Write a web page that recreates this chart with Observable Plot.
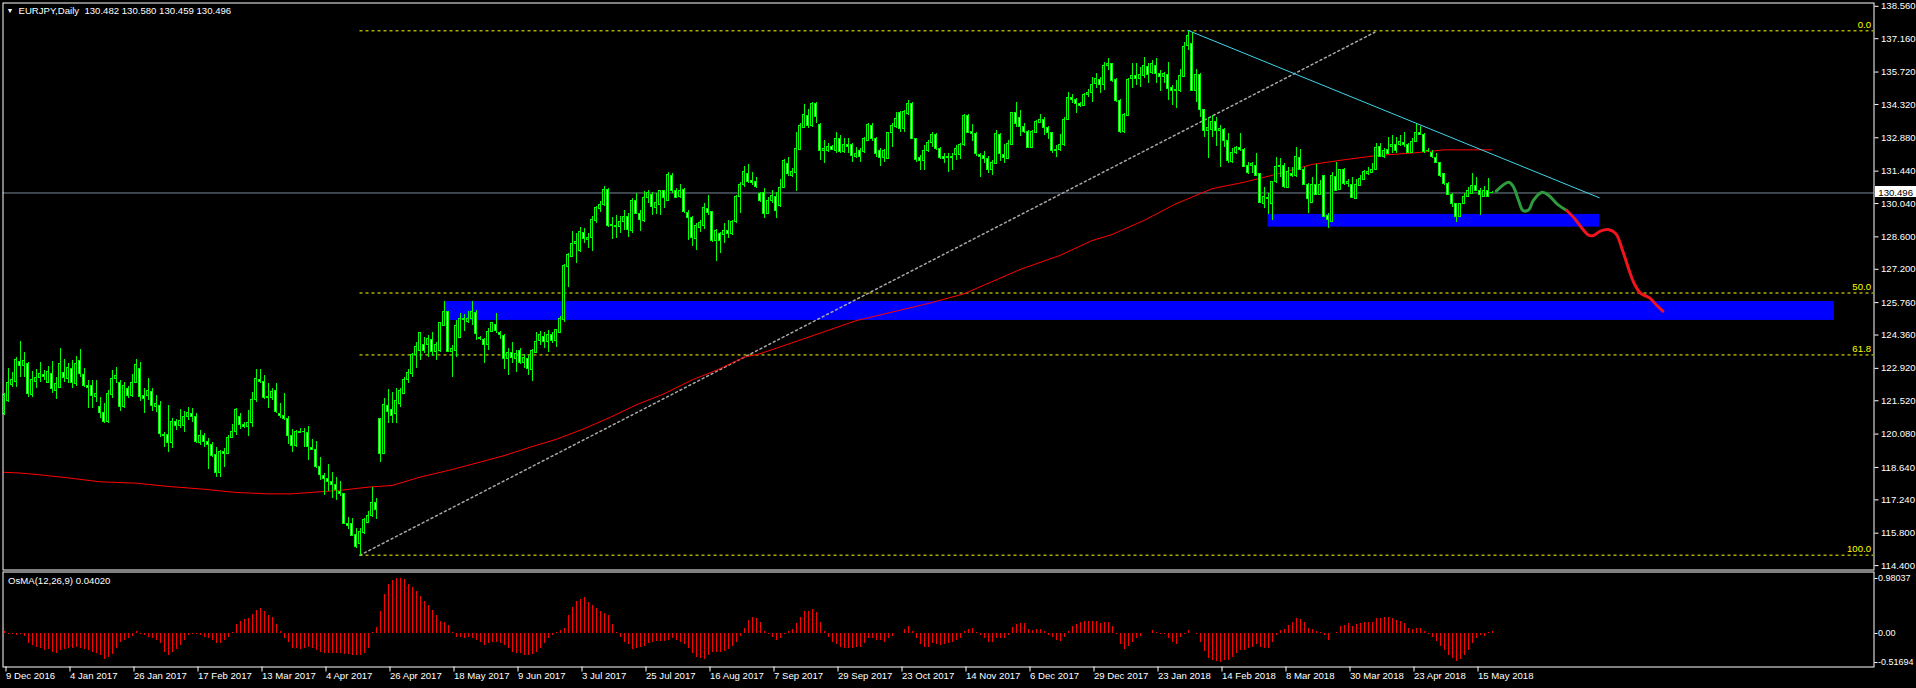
<!DOCTYPE html>
<html><head><meta charset="utf-8">
<script src="https://cdn.jsdelivr.net/npm/d3@7"></script>
<script src="https://cdn.jsdelivr.net/npm/@observablehq/plot@0.6"></script>
<style>
html,body{margin:0;padding:0;background:#000;overflow:hidden;}
#wrap{position:relative;width:1916px;height:688px;background:#000;}
#wrap svg{position:absolute;left:0;}
</style></head><body><div id="wrap"></div>
<script>
// ---------- DATA ----------
const symbol = "EURJPY,Daily";
const lastQuote = [130.482, 130.580, 130.459, 130.496];
const osmaTitle = "OsMA(12,26,9) 0.04020";

const open = [
120.96,121.50,122.22,122.32,123.20,123.01,123.12,121.75,122.32,122.50,
122.64,122.29,122.68,121.96,122.08,122.73,122.44,122.90,122.25,123.22,
122.64,122.17,122.14,121.68,121.23,121.00,120.60,121.75,122.45,122.29,
121.24,122.04,121.72,122.28,122.90,121.73,121.72,121.91,121.27,121.30,
120.06,120.02,119.69,120.61,120.44,120.45,120.81,120.96,120.84,119.69,
119.98,119.76,119.59,119.16,118.39,119.30,119.23,119.92,120.16,120.84,
120.49,120.38,120.55,121.56,122.42,122.35,121.65,121.65,121.96,120.96,
120.88,120.75,119.98,119.56,120.19,120.16,120.13,119.49,119.40,118.68,
118.29,118.15,118.02,117.89,117.56,117.50,116.20,116.20,115.73,115.34,
115.81,116.25,116.53,117.11,120.74,119.23,121.31,121.10,120.96,121.39,
121.82,122.40,122.68,123.48,123.66,123.95,123.91,124.15,123.62,123.66,
124.77,125.35,123.62,123.69,124.22,125.06,124.91,125.06,125.32,124.24,
124.15,123.94,124.48,124.81,124.44,124.30,123.33,123.58,123.33,123.65,
123.14,123.33,122.86,123.58,124.12,124.27,124.05,124.38,124.09,124.44,
124.99,127.29,127.72,128.30,127.98,128.76,128.47,128.54,129.28,129.81,
129.98,130.63,129.09,129.09,129.02,129.24,129.48,128.87,130.17,129.59,
129.28,130.29,130.43,129.84,129.96,130.56,130.17,131.25,130.57,130.31,
130.63,129.64,129.42,128.49,128.99,129.06,129.81,129.67,128.41,128.73,
128.70,128.87,128.73,129.24,130.31,130.86,131.32,131.00,130.96,130.46,
130.49,129.59,130.14,130.34,129.95,130.72,131.76,131.25,131.35,132.37,
133.31,133.84,133.38,134.32,133.45,132.33,132.33,132.50,132.33,132.84,
132.26,132.59,132.59,132.07,132.33,132.26,132.76,133.41,132.81,132.33,
132.01,131.97,133.08,133.34,133.96,133.27,133.92,134.35,132.81,132.00,
131.86,132.33,132.65,133.01,132.40,132.07,132.01,132.07,132.12,132.12,
132.55,133.84,133.12,133.05,132.12,132.09,131.97,131.47,131.76,132.98,
132.14,131.97,132.59,133.96,133.74,133.34,133.15,132.43,133.09,133.51,
133.63,133.31,133.09,132.30,132.37,132.55,133.66,134.61,134.52,134.35,
134.25,134.71,134.81,135.21,135.38,135.14,135.96,136.07,135.36,134.49,
133.12,133.84,135.40,135.57,135.40,135.57,135.93,135.67,136.00,135.64,
135.50,135.60,135.04,134.89,134.89,135.50,136.84,136.94,134.89,135.61,
134.06,133.17,133.20,133.58,133.17,133.20,132.72,131.83,132.23,132.43,
132.36,131.64,131.68,131.68,131.30,130.03,130.29,130.00,130.96,131.61,
131.64,130.72,131.32,131.25,132.02,131.50,130.86,130.06,130.86,130.42,
131.21,129.52,129.24,131.18,130.63,131.47,130.89,130.82,130.24,130.79,
131.06,131.32,131.35,131.50,132.47,132.04,132.36,132.50,132.58,132.55,
132.65,132.55,132.22,132.69,133.09,133.02,132.30,132.22,132.02,131.78,
131.30,130.89,130.42,130.03,129.45,130.03,130.34,130.46,130.78,130.60,
130.34,130.60,130.482];

const high = [
121.82,122.90,122.75,123.37,124.08,123.59,123.19,122.80,122.86,123.16,
122.83,123.00,123.22,122.54,123.78,123.29,123.12,123.26,123.43,123.73,
122.90,122.40,122.40,122.40,121.65,121.39,121.96,122.83,122.94,122.40,
122.32,122.14,122.64,123.30,123.19,122.04,122.47,122.04,121.75,121.50,
120.16,121.32,120.74,120.70,121.13,121.07,121.24,121.17,120.96,120.24,
120.09,119.88,119.73,119.52,119.37,119.44,120.02,120.49,121.20,120.98,
120.60,121.10,121.89,122.86,122.86,122.61,122.25,122.06,122.25,121.42,
121.82,120.84,120.28,120.24,120.31,120.34,120.41,119.83,119.77,119.05,
118.39,118.77,118.44,118.22,118.05,117.52,116.49,116.42,115.99,115.99,
116.42,116.75,117.79,117.28,120.77,121.60,122.01,121.89,122.04,122.04,
122.51,122.86,123.58,124.05,124.48,124.27,124.34,124.48,124.05,124.91,
125.81,125.38,123.91,124.99,125.30,125.25,125.39,125.81,125.42,124.30,
124.20,124.63,124.91,125.27,124.53,124.38,123.76,124.04,123.69,123.76,
123.52,123.48,123.72,124.48,124.53,124.48,124.56,124.48,124.58,125.16,
127.41,127.87,128.85,128.76,128.99,128.95,128.76,129.48,129.93,130.13,
130.78,130.68,129.42,129.52,129.48,129.74,129.59,130.24,130.49,129.74,
130.57,130.60,130.53,130.46,130.60,130.60,131.40,131.32,130.68,130.86,
130.68,129.74,129.48,129.19,129.31,130.03,130.39,129.71,128.90,128.80,
129.19,129.31,129.31,130.39,130.96,131.64,131.73,131.40,131.15,130.53,
130.67,130.31,130.60,130.53,131.06,131.93,132.01,131.54,133.12,133.51,
134.30,134.09,134.39,134.39,133.48,132.76,132.62,132.55,133.12,132.98,
132.84,132.84,132.65,132.48,132.40,132.91,133.51,133.51,132.91,132.40,
132.36,133.12,133.51,133.99,134.02,134.06,134.49,134.42,132.84,132.12,
132.55,132.76,133.12,133.05,132.48,132.19,132.19,132.19,132.55,132.65,
133.87,133.87,133.45,133.12,132.19,132.29,132.07,131.90,133.19,133.05,
132.59,132.76,133.99,134.42,134.06,133.48,133.19,133.19,133.63,133.87,
133.77,133.37,133.12,132.55,133.02,133.77,134.85,134.75,134.56,134.42,
134.78,134.95,135.50,135.64,135.50,136.12,136.30,136.10,135.43,134.52,
133.92,135.43,136.10,136.10,135.93,136.36,136.10,136.22,136.29,135.79,
135.71,136.15,135.14,135.36,135.82,137.01,137.52,137.44,135.82,135.64,
134.09,133.77,133.84,133.77,133.41,133.27,133.05,132.40,132.50,133.05,
132.40,131.83,131.83,132.19,131.32,130.75,130.49,130.99,132.04,131.97,
131.76,131.61,131.61,132.47,132.36,131.61,130.89,131.18,131.73,131.04,
131.25,129.60,131.40,131.83,131.50,131.54,131.06,131.18,131.06,131.25,
131.47,131.61,131.76,132.62,132.62,132.40,132.91,132.98,132.91,132.98,
133.12,132.62,132.84,133.51,133.37,133.05,132.40,132.33,132.19,131.83,
131.35,130.96,130.46,130.06,130.06,130.46,130.75,131.35,131.18,130.68,
130.78,131.11,130.580];

const low = [
120.88,121.45,122.11,122.11,122.54,122.54,121.65,121.65,122.04,122.29,
122.40,122.25,121.82,121.56,122.05,122.32,122.25,122.04,122.14,122.54,
122.11,121.20,121.17,121.46,120.74,120.52,120.52,121.60,122.25,121.06,
121.17,121.60,121.68,122.25,121.50,120.98,121.53,121.07,121.03,119.95,
119.52,119.30,119.44,120.24,120.31,120.16,120.67,120.60,119.66,119.59,
119.52,118.55,119.08,118.19,118.22,118.65,119.20,119.88,120.02,120.28,
120.31,119.99,120.38,121.46,122.25,121.57,121.17,121.53,120.98,120.74,
120.67,119.63,119.27,119.52,120.14,119.52,118.94,119.37,118.58,118.08,
117.43,117.61,117.28,117.21,117.38,116.17,115.98,115.66,115.15,114.85,
115.74,116.20,116.46,116.39,118.87,119.20,120.55,120.55,120.52,121.24,
121.79,122.28,122.51,122.90,123.26,123.55,123.40,123.43,123.26,123.62,
124.74,123.60,122.54,123.37,124.20,124.53,124.87,124.77,124.12,124.12,
123.12,123.69,124.45,124.44,124.15,122.86,122.61,123.12,122.76,123.09,
122.90,122.61,122.37,123.55,123.91,123.76,123.62,123.98,123.84,124.41,
124.91,126.43,127.69,127.43,127.94,128.30,128.08,127.98,129.16,129.67,
129.93,129.02,128.47,128.54,128.73,128.87,128.56,128.76,129.57,128.85,
129.24,130.03,129.52,129.57,129.52,129.81,130.14,130.46,130.24,130.24,
129.62,128.44,128.18,128.01,128.80,128.90,129.52,128.37,127.55,127.87,
128.30,128.51,128.66,129.19,129.62,130.72,130.89,130.82,130.67,130.10,
129.38,129.55,130.03,129.38,129.88,130.68,131.21,131.15,130.57,132.33,
133.27,133.27,133.34,133.48,131.90,131.76,132.26,132.33,132.22,132.22,
132.19,132.19,131.83,131.97,131.83,132.19,132.73,132.73,132.04,131.64,
131.83,131.95,132.45,133.27,133.12,133.12,133.84,132.81,131.83,131.47,
131.47,132.26,132.45,132.33,131.93,131.78,131.40,131.47,131.90,131.93,
132.50,133.05,132.73,132.07,131.15,131.76,131.32,131.25,131.71,131.87,
131.76,131.93,132.55,133.34,132.94,133.05,132.40,132.40,133.08,133.48,
132.98,132.79,132.19,132.04,132.30,132.52,133.63,134.35,133.92,134.20,
134.23,134.64,134.42,135.00,134.81,134.92,135.80,135.28,134.42,133.05,
133.05,133.80,134.99,135.14,135.07,135.43,135.21,135.61,135.21,134.89,
135.21,134.49,134.28,134.13,134.85,135.47,136.65,134.89,134.42,133.77,
132.91,131.97,132.88,132.50,131.61,132.47,131.78,131.78,132.16,132.30,
131.58,131.30,131.32,131.21,130.03,129.81,129.57,129.31,130.89,131.18,
130.68,130.68,131.18,131.18,131.47,130.82,129.60,130.03,130.39,130.39,
129.42,128.95,129.20,130.57,130.60,130.82,130.75,130.24,130.20,130.78,
131.04,131.25,131.32,131.47,132.02,131.97,132.16,132.19,132.19,132.52,
132.47,132.19,132.19,132.66,132.98,132.22,132.26,131.97,131.76,131.18,
130.82,130.39,129.88,129.21,129.42,130.00,130.31,130.43,130.57,129.52,
130.31,130.31,130.459];

const close = [
121.75,122.29,122.40,123.29,123.01,123.24,121.82,122.40,122.51,122.68,
122.54,122.77,122.04,122.25,123.09,122.51,122.94,122.28,123.12,122.68,
122.15,122.06,121.72,121.82,121.00,120.60,121.82,122.44,122.60,121.27,
122.14,121.72,122.29,123.07,121.68,121.59,121.96,121.30,121.39,120.09,
119.99,119.69,120.61,120.42,120.65,120.84,121.00,120.81,119.73,120.00,
119.73,119.62,119.13,118.39,119.30,119.23,119.92,120.19,121.10,120.48,
120.38,120.57,121.56,122.47,122.32,121.63,121.68,121.92,121.03,120.85,
120.74,119.99,119.56,120.19,120.16,120.19,119.52,119.41,118.65,118.32,
118.12,118.00,117.89,117.67,117.48,116.20,116.13,115.70,115.20,115.84,
116.35,116.55,117.11,116.82,119.23,121.34,121.03,120.88,121.53,121.93,
122.42,122.73,123.50,123.86,124.44,123.66,124.20,123.62,123.91,124.87,
125.35,123.62,123.76,124.73,125.06,124.99,125.06,125.35,124.41,124.17,
123.94,124.51,124.87,124.53,124.34,123.33,123.58,123.37,123.52,123.16,
123.37,122.90,123.66,124.08,124.34,124.05,124.38,124.12,124.56,125.06,
127.36,127.80,128.30,128.37,128.80,128.49,128.56,129.31,129.84,129.98,
130.63,129.09,129.13,129.05,129.26,129.48,128.90,130.17,129.59,129.34,
130.29,130.49,129.88,130.07,130.56,130.29,131.28,130.57,130.29,130.60,
129.67,129.41,128.56,129.05,129.19,129.85,129.62,128.41,128.87,128.44,
128.87,128.73,129.26,130.34,130.86,131.40,130.96,130.92,130.75,130.14,
129.59,130.17,130.37,129.70,130.72,131.87,131.32,131.40,132.40,133.37,
133.87,133.41,134.32,133.77,132.33,132.40,132.50,132.37,132.84,132.26,
132.55,132.50,132.10,132.19,132.04,132.81,133.45,132.84,132.19,132.01,
132.33,133.09,133.37,133.70,133.27,133.99,134.35,132.84,131.93,131.86,
132.33,132.66,133.01,132.40,132.01,131.97,132.07,132.01,132.40,132.59,
133.84,133.08,133.05,132.19,132.07,131.97,131.47,131.80,133.05,132.19,
132.01,132.62,133.96,133.48,133.34,133.12,132.43,133.15,133.58,133.67,
133.31,133.08,132.33,132.37,132.58,133.66,134.61,134.52,134.35,134.25,
134.75,134.81,135.18,135.43,135.14,135.96,136.05,135.33,134.46,133.12,
133.87,135.38,135.57,135.40,135.61,136.00,135.61,136.05,135.64,135.50,
135.64,134.99,134.89,134.95,135.57,136.82,137.26,134.92,135.60,134.06,
133.17,133.31,133.58,133.17,133.24,132.73,131.87,132.23,132.43,132.36,
131.61,131.35,131.76,131.25,130.06,130.34,130.24,130.96,131.61,131.64,
130.75,131.40,131.25,132.07,131.50,130.85,130.24,130.86,130.43,130.86,
129.45,129.31,131.21,130.60,131.47,130.89,130.99,130.29,130.82,131.11,
131.40,131.42,131.50,132.45,132.04,132.33,132.19,132.58,132.33,132.69,
132.55,132.22,132.69,133.09,133.02,132.26,132.33,132.04,131.78,131.25,
130.89,130.42,130.03,129.45,130.03,130.34,130.60,130.78,130.60,130.39,
130.60,130.34,130.496];

// OsMA(12,26,9) histogram, one value per bar
const osma = [
0.035,-0.024,-0.024,-0.035,-0.012,-0.047,-0.183,-0.212,-0.242,-0.260,
-0.301,-0.283,-0.330,-0.360,-0.301,-0.283,-0.271,-0.271,-0.242,-0.260,
-0.283,-0.307,-0.330,-0.360,-0.401,-0.460,-0.419,-0.378,-0.271,-0.165,
-0.124,-0.094,-0.047,0.035,-0.024,-0.035,-0.065,-0.094,-0.124,-0.183,
-0.330,-0.389,-0.330,-0.283,-0.212,-0.124,-0.035,-0.024,-0.024,-0.035,
-0.065,-0.094,-0.124,-0.183,-0.183,-0.124,-0.065,0.024,0.153,0.212,
0.242,0.260,0.330,0.407,0.448,0.389,0.319,0.289,0.153,0.035,
-0.094,-0.165,-0.271,-0.271,-0.283,-0.260,-0.248,-0.260,-0.301,-0.330,
-0.360,-0.360,-0.360,-0.360,-0.360,-0.372,-0.378,-0.389,-0.401,-0.389,
-0.360,-0.271,0.024,0.112,0.389,0.702,0.879,0.938,0.980,0.975,
0.956,0.879,0.820,0.743,0.661,0.566,0.496,0.407,0.319,0.212,
0.189,0.142,0.012,-0.065,-0.071,-0.083,-0.065,-0.083,-0.124,-0.165,
-0.212,-0.183,-0.153,-0.165,-0.183,-0.212,-0.271,-0.330,-0.360,-0.360,
-0.389,-0.401,-0.378,-0.330,-0.271,-0.183,-0.094,-0.035,0.024,0.053,
0.094,0.319,0.466,0.566,0.614,0.643,0.555,0.496,0.437,0.389,
0.348,0.319,0.153,0.012,-0.071,-0.153,-0.201,-0.283,-0.271,-0.242,
-0.224,-0.183,-0.153,-0.142,-0.142,-0.142,-0.124,-0.083,-0.124,-0.153,
-0.201,-0.260,-0.360,-0.419,-0.448,-0.460,-0.389,-0.342,-0.330,-0.330,
-0.319,-0.283,-0.224,-0.153,-0.047,0.083,0.230,0.289,0.260,0.189,
0.035,-0.024,-0.065,-0.124,-0.094,-0.024,0.035,0.071,0.171,0.289,
0.389,0.389,0.425,0.378,0.201,0.035,-0.065,-0.153,-0.201,-0.242,
-0.260,-0.271,-0.271,-0.242,-0.242,-0.183,-0.094,-0.083,-0.124,-0.124,
-0.165,-0.094,-0.047,-0.006,-0.006,0.071,0.130,0.035,-0.083,-0.201,
-0.242,-0.242,-0.183,-0.201,-0.212,-0.201,-0.183,-0.153,-0.124,-0.083,
0.035,0.071,0.094,0.024,-0.035,-0.094,-0.153,-0.153,-0.083,-0.083,
-0.083,-0.035,0.112,0.153,0.171,0.171,0.071,0.053,0.071,0.071,
0.035,-0.035,-0.065,-0.124,-0.142,-0.065,0.035,0.130,0.153,0.189,
0.212,0.212,0.212,0.212,0.171,0.201,0.201,0.130,-0.024,-0.201,
-0.283,-0.224,-0.153,-0.094,-0.047,-0.006,-0.006,0.053,0.024,-0.024,
-0.024,-0.094,-0.153,-0.201,-0.065,-0.024,0.053,-0.006,-0.024,-0.153,
-0.319,-0.437,-0.478,-0.496,-0.517,-0.478,-0.478,-0.419,-0.360,-0.301,
-0.301,-0.271,-0.242,-0.201,-0.242,-0.260,-0.260,-0.165,-0.035,0.053,
0.071,0.142,0.201,0.271,0.248,0.189,0.094,0.071,0.035,0.012,
-0.035,-0.124,-0.006,0.012,0.130,0.142,0.171,0.130,0.153,0.171,
0.189,0.189,0.189,0.271,0.271,0.289,0.289,0.271,0.230,0.212,
0.171,0.094,0.071,0.094,0.094,0.035,-0.024,-0.065,-0.142,-0.224,
-0.301,-0.389,-0.437,-0.496,-0.460,-0.389,-0.301,-0.183,-0.083,-0.035,
-0.047,0.020,0.0402];

// 200-period moving average (red), read at bar positions
const maBar = [0,4,9,16,24,33,41,50,58,66,72,79,85,91,97,104,112,119,125,132,138,145,152,158,165,172,178,185,189,200,213,231,240,254,264,272,277,285,293,302,310,318,327,335,343,352,357,360,372];
const maVal = [118.43,118.40,118.32,118.19,118.02,117.96,117.82,117.70,117.56,117.50,117.50,117.59,117.67,117.79,117.86,118.22,118.55,118.87,119.15,119.54,119.85,120.31,120.84,121.34,121.82,122.42,122.83,123.40,123.55,124.20,124.98,125.72,126.14,127.19,127.80,128.44,128.70,129.31,130.03,130.68,130.96,131.30,131.73,131.93,132.11,132.22,132.30,132.36,132.36];

// Fibonacci retracement (from the April 2017 low to the February 2018 high)
const fibLabels = ["0.0", "50.0", "61.8", "100.0"];
const fibPrices = [137.50, 126.175, 123.50, 114.85];
const fibStartBar = 89;

// blue zones
const zoneBar1 = [110, 316];
const zoneBar2 = [457.6, 398.9];
const zoneLow = [124.99, 129.02];
const zoneHigh = [125.81, 129.57];

// trend lines
const cyanBar = [296, 398.8], cyanPrice = [137.52, 130.29];
const dotBar = [89, 342.7], dotPrice = [114.85, 137.44];

// hand-drawn projections
const greenBar = [373.05,376.2,377.3,378.65,379.75,381.2,382.3,384.55,386.2,388.4,390.7];
const greenPrice = [130.58,130.96,130.78,130.17,129.74,129.77,130.17,130.53,130.39,130.00,129.74];
const redBar = [390.7,392.7,394.6,396.3,397.4,399.1,401.3,403,404.65,406.3,407.4,409.1,411.35,413,414.7];
const redPrice = [129.74,129.38,128.95,128.66,128.66,128.85,128.91,128.73,128.01,127.15,126.64,126.17,125.97,125.68,125.39];

// axes
const priceTicks = [138.560,137.160,135.720,134.320,132.880,131.440,130.040,128.600,127.200,125.760,124.360,122.920,121.520,120.080,118.640,117.240,115.800,114.400];
const dateLabels = ["9 Dec 2016","4 Jan 2017","26 Jan 2017","17 Feb 2017","13 Mar 2017","4 Apr 2017","26 Apr 2017","18 May 2017","9 Jun 2017","3 Jul 2017","25 Jul 2017","16 Aug 2017","7 Sep 2017","29 Sep 2017","23 Oct 2017","14 Nov 2017","6 Dec 2017","29 Dec 2017","23 Jan 2018","14 Feb 2018","8 Mar 2018","30 Mar 2018","23 Apr 2018","15 May 2018"];
const dateLabelBars = dateLabels.map((_, k) => k * 16);
const osmaTicks = [0.98037, 0, -0.51694];

// ---------- BUILD ----------
if (![open, high, low, close, osma].every(a => a.length === close.length)) throw new Error("length mismatch");
const bars = close.map((c, i) => ({i, o: open[i], h: high[i], l: low[i], c}));
const dojis = bars.filter(d => Math.abs(d.o - d.c) < 0.04);
const lastClose = close[close.length - 1];
const xDomain = [-0.875, 467.375];
const LIME = "#00ff00";
const font = "'Liberation Sans', Arial, sans-serif";
const FS = "9.6px";

const ma = maBar.map((b, k) => ({b, v: maVal[k]}));
const fibs = fibLabels.map((t, k) => ({t, p: fibPrices[k]}));
const zones = zoneBar1.map((b, k) => ({b1: b, b2: zoneBar2[k], p1: zoneLow[k], p2: zoneHigh[k]}));
const cyan = cyanBar.map((b, k) => ({b, p: cyanPrice[k]}));
const dots = dotBar.map((b, k) => ({b, p: dotPrice[k]}));
const green = greenBar.map((b, k) => ({b, p: greenPrice[k]}));
const red = redBar.map((b, k) => ({b, p: redPrice[k]}));

function priceBox(index, scales, values, dims) {
  const y = (scales.y || scales.scales.y)(lastClose);
  const x = dims.width - dims.marginRight;
  const g = d3.create("svg:g");
  g.append("rect").attr("x", x + 1.5).attr("y", Math.round(y) - 6).attr("width", dims.width - x - 1.5).attr("height", 11).attr("fill", "#fff");
  g.append("text").attr("x", dims.width - 3).attr("y", y).attr("dy", "0.35em").attr("text-anchor", "end").attr("fill", "#000")
    .attr("font-family", font).attr("font-size", FS).text(lastClose.toFixed(3));
  return g.node();
}

const main = Plot.plot({
  width: 1916, height: 571,
  marginLeft: 2.5, marginRight: 42.5, marginTop: 2.5, marginBottom: 1.5,
  style: {background: "#000", color: "#fff", fontFamily: font, fontSize: FS},
  x: {domain: xDomain, range: [0, 1873], axis: null, label: null},
  y: {domain: [114.4, 138.56], range: [565.1, 5.8], axis: null, label: null},
  marks: [
    Plot.rect(zones, {x1: "b1", x2: "b2", y1: "p1", y2: "p2", fill: "#0000ff"}),
    Plot.ruleY(fibs, {y: "p", x1: fibStartBar, x2: xDomain[1], stroke: "#ffff00", strokeDasharray: "3,3"}),
    Plot.text(fibs, {y: "p", text: "t", frameAnchor: "right", textAnchor: "end", dx: -3, dy: -6, fill: "#ffff00"}),
    Plot.ruleY([lastClose], {stroke: "#778899"}),
    Plot.line(dots, {x: "b", y: "p", stroke: "#a8a8a8", strokeDasharray: "2,3"}),
    Plot.line(ma, {x: "b", y: "v", stroke: "#ff0000", strokeWidth: 1}),
    Plot.ruleX(bars, {x: "i", y1: "l", y2: "h", stroke: LIME, shapeRendering: "crispEdges", clip: true}),
    Plot.rect(bars, {x1: d => d.i - 0.25, x2: d => d.i + 0.25, y1: "o", y2: "c",
      fill: d => d.c < d.o ? "#ffffff" : "#000000", stroke: LIME, shapeRendering: "crispEdges", clip: true}),
    Plot.ruleY(dojis, {x1: d => d.i - 0.375, x2: d => d.i + 0.375, y: "c", stroke: LIME, shapeRendering: "crispEdges", clip: true}),
    Plot.line(cyan, {x: "b", y: "p", stroke: "#3fd6ea", strokeWidth: 1}),
    Plot.line(green, {x: "b", y: "p", stroke: "#2e9b3e", strokeWidth: 3, curve: "catmull-rom"}),
    Plot.line(red, {x: "b", y: "p", stroke: "#f0141e", strokeWidth: 3, curve: "catmull-rom"}),
    Plot.frame({stroke: "#fff"}),
    Plot.axisY({anchor: "right", label: null, ticks: priceTicks, tickFormat: d => d.toFixed(3), tickSize: 4, tickPadding: 3}),
    priceBox,
    Plot.text(["\u25BC"], {text: d => d, frameAnchor: "top-left", dx: 7, dy: 8, lineAnchor: "middle", textAnchor: "middle", fontSize: 7, fill: "#fff"}),
    Plot.text([symbol + "\u00a0\u00a0" + lastQuote.map(v => v.toFixed(3)).join(" ")], {text: d => d, frameAnchor: "top-left", dx: 15.5, dy: 8.2, lineAnchor: "middle", textAnchor: "start", fill: "#fff"})
  ]
});
main.style.top = "0px";

const osmaData = osma.map((v, i) => ({i, v}));
const sub = Plot.plot({
  width: 1916, height: 117,
  marginLeft: 2.5, marginRight: 42.5, marginTop: 0.5, marginBottom: 21.5,
  style: {background: "#000", color: "#fff", fontFamily: font, fontSize: FS},
  x: {domain: xDomain, range: [0, 1873], axis: null, label: null},
  y: {domain: [osmaTicks[2], osmaTicks[0]], range: [91, 7], axis: null, label: null},
  marks: [
    Plot.ruleX(osmaData, {x: "i", y1: 0, y2: "v", stroke: "#ff0000", shapeRendering: "crispEdges"}),
    Plot.frame({stroke: "#fff"}),
    Plot.axisY({anchor: "right", label: null, ticks: osmaTicks, tickFormat: d => d === 0 ? "0.00" : d.toFixed(5), tickSize: 3, tickPadding: 1, fontSize: "9px"}),
    Plot.axisX({anchor: "bottom", label: null, ticks: dateLabelBars, tickFormat: d => dateLabels[Math.round(d / 16)], tickSize: 5, tickPadding: 0, textAnchor: "start", dx: 2}),
    Plot.text([osmaTitle], {text: d => d, frameAnchor: "top-left", dx: 5, dy: 8.5, lineAnchor: "middle", textAnchor: "start", fill: "#fff"})
  ]
});
sub.style.top = "571px";

const wrap = document.getElementById("wrap");
wrap.appendChild(main);
wrap.appendChild(sub);
</script>
</body></html>
